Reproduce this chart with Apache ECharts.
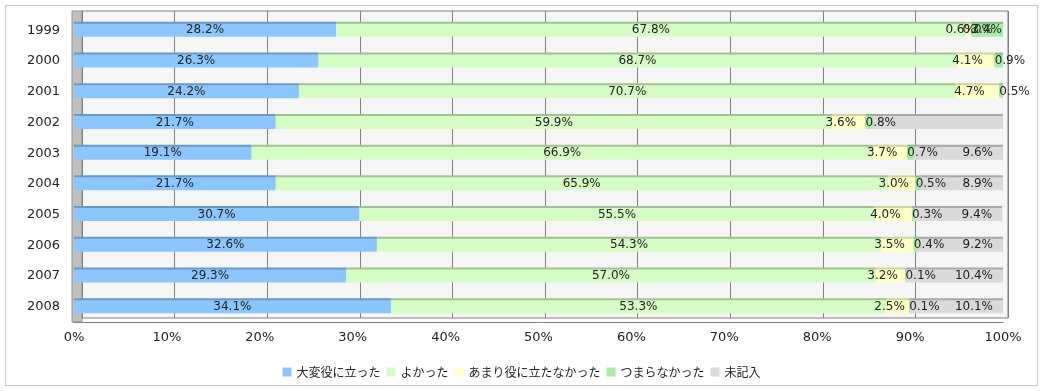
<!DOCTYPE html>
<html><head><meta charset="utf-8">
<script src="https://cdn.jsdelivr.net/npm/echarts@6/dist/echarts.min.js"></script>
<style>
html,body{margin:0;padding:0;background:#fff;}
#c{width:1043px;height:391px;position:absolute;left:0;top:0;}
#frame{position:absolute;left:5px;top:5px;width:1031px;height:379px;border:1px solid #c8c8c8;pointer-events:none;}
</style></head>
<body>
<div id="c"></div><div id="frame"></div>
<script>
const categories = ['1999','2000','2001','2002','2003','2004','2005','2006','2007','2008'];
const seriesNames = ['大変役に立った','よかった','あまり役に立たなかった','つまらなかった','未記入'];
const veryUseful   = [28.2, 26.3, 24.2, 21.7, 19.1, 21.7, 30.7, 32.6, 29.3, 34.1];
const good         = [67.8, 68.7, 70.7, 59.9, 66.9, 65.9, 55.5, 54.3, 57.0, 53.3];
const notUseful    = [0.6, 4.1, 4.7, 3.6, 3.7, 3.0, 4.0, 3.5, 3.2, 2.5];
const boring       = [3.4, 0.9, 0.5, 0.8, 0.7, 0.5, 0.3, 0.4, 0.1, 0.1];
const noAnswer     = [0.0, null, null, 14.0, 9.6, 8.9, 9.4, 9.2, 10.4, 10.1];
const hiddenLabelIdx = { noAnswer: [3] };
const xTicks = [0,10,20,30,40,50,60,70,80,90,100];

const colors = ['#8cc6ff','#d6fcc6','#ffffc8','#a8eca8','#dadada'];
const topEdges = ['#6c98c4','#a2c295','#d2d2a0','#80c080','#a8a8a8'];

const fmt = p => p.value == null ? '' : Number(p.value).toFixed(1) + '%';
const lblBase = { show: true, color: '#222', fontSize: 12, fontFamily: 'DejaVu Sans, sans-serif', formatter: fmt };

function mk(i, data, label) {
  return {
    name: seriesNames[i], type: 'bar', stack: 'all', xAxisIndex: 0, yAxisIndex: 0,
    barWidth: 13, data: data,
    itemStyle: { color: colors[i], shadowColor: topEdges[i], shadowOffsetY: -2, shadowBlur: 0 },
    label: Object.assign({}, lblBase, label)
  };
}

const gray = noAnswer.map((v, i) => hiddenLabelIdx.noAnswer.includes(i) ? { value: v, label: { show: false } } : v);

const chart = echarts.init(document.getElementById('c'));
chart.setOption({
  animation: false,
  backgroundColor: '#fff',
  grid: [
    { left: 74, right: 40, top: 15, bottom: 69 },
    { left: 82, right: 35, top: 11, bottom: 73, show: true, backgroundColor: '#f6f6f6', borderColor: '#808080', borderWidth: 1 },
    { left: 72, width: 10, top: 11, bottom: 69, show: true, backgroundColor: '#c0c0c0', borderColor: '#909090', borderWidth: 1 }
  ],
  xAxis: [
    { gridIndex: 0, type: 'value', min: 0, max: 100, interval: 10,
      axisLabel: { formatter: '{value}%', color: '#222', fontSize: 13, margin: 9, fontFamily: 'DejaVu Sans, sans-serif' },
      axisLine: { show: true, lineStyle: { color: '#808080' } }, axisTick: { show: false }, splitLine: { show: false } },
    { gridIndex: 1, type: 'value', min: 0, max: 100, interval: 10,
      axisLabel: { show: false }, axisLine: { show: false }, axisTick: { show: false },
      splitLine: { show: true, lineStyle: { color: '#808080', width: 1 } } },
    { gridIndex: 2, type: 'value', show: false, min: 0, max: 1 }
  ],
  yAxis: [
    { gridIndex: 0, type: 'category', data: categories, inverse: true,
      axisLabel: { color: '#222', fontSize: 13, margin: 14, fontFamily: 'DejaVu Sans, sans-serif' },
      axisLine: { show: false }, axisTick: { show: false } },
    { gridIndex: 1, type: 'category', data: categories, show: false },
    { gridIndex: 2, type: 'category', data: categories, show: false }
  ],
  legend: {
    bottom: 8, left: 'center', icon: 'rect', itemWidth: 9, itemHeight: 9, itemGap: 6,
    textStyle: { fontSize: 12, color: '#222', fontFamily: 'Noto Sans CJK JP, sans-serif' },
    data: seriesNames
  },
  series: [
    mk(0, veryUseful, { position: 'inside' }),
    mk(1, good, { position: 'inside' }),
    mk(2, notUseful, { position: 'inside', offset: [-8, 0] }),
    mk(3, boring, { position: 'insideLeft', distance: 0 }),
    mk(4, gray, { position: 'insideRight', distance: 10 })
  ]
});
</script>
</body></html>
